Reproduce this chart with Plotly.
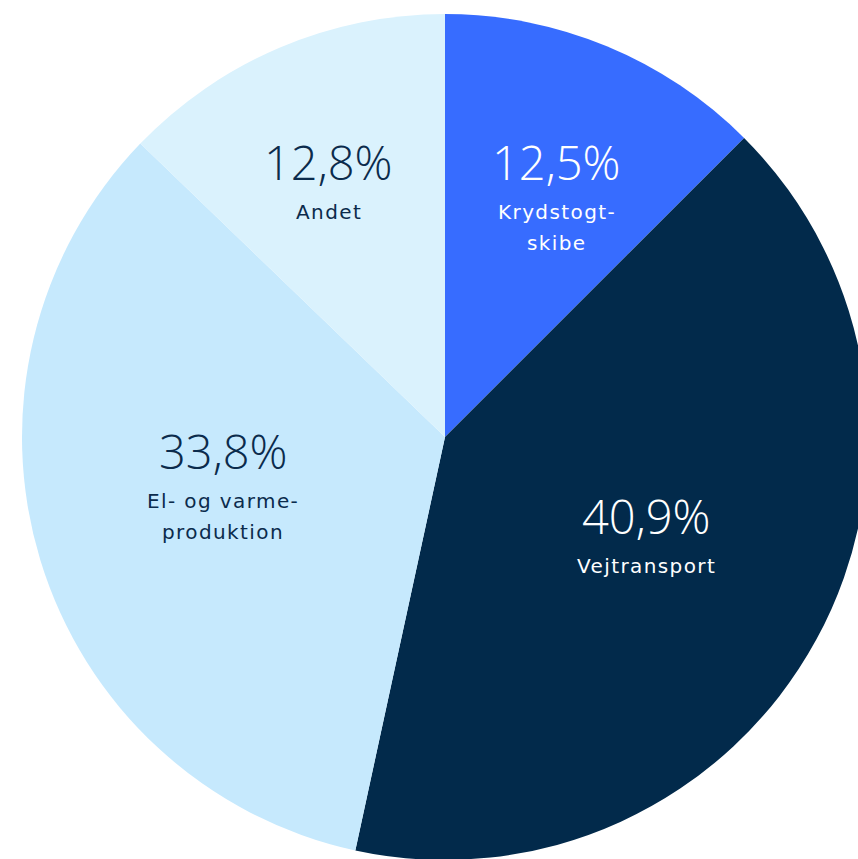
import math
import plotly.graph_objects as go

# Emission shares by source (percent), clockwise from 12 o'clock
categories = ["Krydstogtskibe", "Vejtransport", "El- og varmeproduktion", "Andet"]
label_lines = [["Krydstogt-", "skibe"], ["Vejtransport"], ["El- og varme-", "produktion"], ["Andet"]]
shares = [12.5, 40.9, 33.8, 12.8]

slice_colors = ["#376CFF", "#022A4B", "#C6E9FD", "#DAF2FD"]
text_colors = ["#FFFFFF", "#FFFFFF", "#0B2B4C", "#0B2B4C"]
# text block placement: fraction of pie radius, and nudge (degrees) from slice mid-angle
label_radius = [0.614, 0.537, 0.540, 0.652]
label_nudge = [3.0, -1.4, 3.1, -1.9]

W, H = 890, 874
CX, CY, R = 445, 437, 423
PCT_FONT = dict(family="Open Sans, Lato, sans-serif", size=47, weight=300)
LBL_FONT = dict(family="DejaVu Sans, Open Sans, sans-serif", size=20, weight=400)
LBL_SPACING = "letter-spacing:1.4px"

fig = go.Figure(
    go.Pie(
        labels=categories,
        values=shares,
        sort=False,
        direction="clockwise",
        rotation=0,
        marker=dict(colors=slice_colors, line=dict(width=0)),
        textinfo="none",
        hovertemplate="%{label}: %{value}%<extra></extra>",
        domain=dict(x=[0, 1], y=[(H - CY - R) / H, (H - CY + R) / H]),
    )
)


def to_paper(px, py):
    return px / W, 1 - py / H


total = sum(shares)
start = 0.0
annotations = []
for i, v in enumerate(shares):
    mid = (start + v / 2) / total * 2 * math.pi + math.radians(label_nudge[i])
    start += v
    r = label_radius[i] * R
    bx = CX + r * math.sin(mid)
    by = CY - r * math.cos(mid)
    lines = label_lines[i]
    block_h = 50 + 31 * (len(lines) - 1)
    pct_y = by - block_h / 2
    pct_text = f"{v:.1f}".replace(".", ",") + "%"
    x, y = to_paper(bx, pct_y)
    annotations.append(dict(x=x, y=y, xref="paper", yref="paper", text=pct_text,
                            showarrow=False, xanchor="center", yanchor="middle",
                            font=dict(PCT_FONT, color=text_colors[i])))
    for j, line in enumerate(lines):
        x, y = to_paper(bx, pct_y + 50 + 31 * j)
        annotations.append(dict(x=x, y=y, xref="paper", yref="paper",
                                text=f"<span style='{LBL_SPACING}'>{line}</span>",
                                showarrow=False, xanchor="center", yanchor="middle",
                                font=dict(LBL_FONT, color=text_colors[i])))

fig.update_layout(
    width=W,
    height=H,
    margin=dict(l=0, r=0, t=0, b=0),
    paper_bgcolor="white",
    plot_bgcolor="white",
    showlegend=False,
    annotations=annotations,
)

fig.write_html(
    "out.html",
    post_script=(
        "document.body.style.margin='0';"
        "document.body.style.overflow='hidden';"
        "document.documentElement.style.overflow='hidden';"
    ),
)
